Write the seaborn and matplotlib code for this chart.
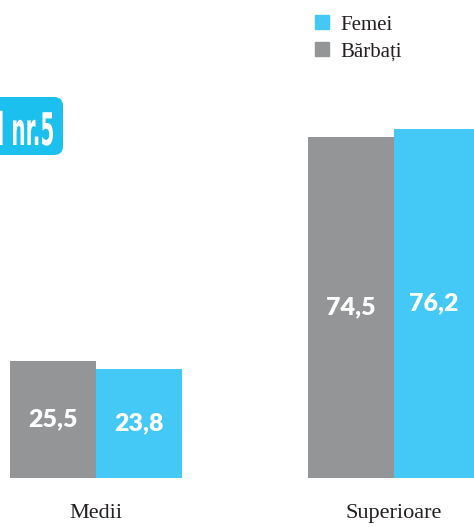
import pandas as pd
import seaborn as sns
import matplotlib.pyplot as plt
from matplotlib.lines import Line2D
from matplotlib.patches import FancyBboxPatch, PathPatch
from matplotlib.textpath import TextPath
from matplotlib.font_manager import FontProperties
from matplotlib.transforms import Affine2D, IdentityTransform

# values
categories = ['Medii', 'Superioare']
barbati = [25.5, 74.5]
femei = [23.8, 76.2]
series = ['Bărbați', 'Femei']
colors = {'Bărbați': '#949597', 'Femei': '#44c8f5'}
badge_text = 'Graficul nr.5'

df = pd.DataFrame({
    'nivel': categories * 2,
    'sex': [series[0]] * 2 + [series[1]] * 2,
    'valoare': barbati + femei,
})

sns.set_style('white')
plt.rcParams['font.family'] = ['Liberation Serif', 'DejaVu Serif']

W, H = 474, 527
fig = plt.figure(figsize=(W / 100, H / 100), dpi=100)
ax = fig.add_axes([0, 49 / H, 1, 1 - 49 / H])

sns.barplot(data=df, x='nivel', y='valoare', hue='sex', hue_order=series,
            palette=colors, width=0.577, saturation=1, legend=False,
            linewidth=0, ax=ax)

for cont in ax.containers:
    labels = [f'{v:.1f}'.replace('.', ',') for v in cont.datavalues]
    ax.bar_label(cont, labels=labels, label_type='center', color='white',
                 fontsize=18, fontweight='heavy', family='Lato')

ax.set_xlim(-0.322, 1.268)
ax.set_ylim(0, 104.4)
ax.set_xlabel('')
ax.set_ylabel('')
ax.set_yticks([])
ax.tick_params(axis='x', length=0, pad=19, labelsize=16, labelcolor='#231f20')
sns.despine(ax=ax, left=True, bottom=True)

# legend: Femei on top
handles = [Line2D([], [], ls='', marker='s', markersize=10, color=colors[s]) for s in series[::-1]]
fig.legend(handles, series[::-1], loc='upper left', bbox_to_anchor=(313 / W, 1 - 15 / H),
           frameon=False, fontsize=15, borderpad=0, borderaxespad=0,
           handlelength=0.9, handletextpad=0.4, labelspacing=0.35, labelcolor='#231f20')

# cut-off badge at the left edge
badge = FancyBboxPatch((-20, 372), 83, 58, boxstyle='round,pad=0,rounding_size=9',
                       transform=IdentityTransform(), color='#1cc0ef', lw=0)
fig.add_artist(badge)

fp = FontProperties(family='DejaVu Sans', weight='bold')
tail = TextPath((0, 0), 'nr.5', size=1, prop=fp).get_extents()
sx = 40 / tail.width
sy = 45
tp = TextPath((0, 0), badge_text, size=1, prop=fp)
xmax = tp.get_extents().x1
tr = Affine2D().scale(sx, sy).translate(53 - xmax * sx, 382)
fig.add_artist(PathPatch(tp, transform=tr, color='white', lw=0))

fig.savefig('out.png', dpi=100)
